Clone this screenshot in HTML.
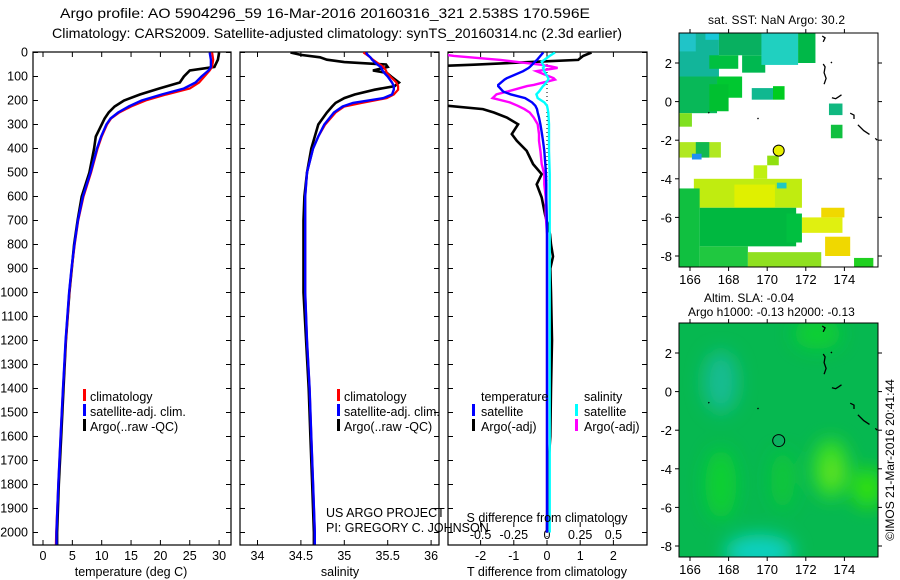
<!DOCTYPE html>
<html><head><meta charset="utf-8"><style>
body{margin:0;background:#fff;}
svg{display:block;font-family:"Liberation Sans",sans-serif;}
text{fill:#000;}
</style></head><body>
<svg id="c" width="900" height="580" viewBox="0 0 900 580">
<defs>
<clipPath id="cp1"><rect x="33" y="52" width="198" height="493"/></clipPath>
<clipPath id="cp2"><rect x="240" y="52" width="199" height="493"/></clipPath>
<clipPath id="cp3"><rect x="448" y="52" width="199" height="493"/></clipPath>
<clipPath id="cm1"><rect x="679" y="33" width="199" height="234"/></clipPath>
<clipPath id="cm2"><rect x="679" y="323" width="199" height="234"/></clipPath>
<filter id="bl" x="-50%" y="-50%" width="200%" height="200%"><feGaussianBlur stdDeviation="9"/></filter>
</defs>
<text x="60" y="18" font-size="14" textLength="530" lengthAdjust="spacingAndGlyphs">Argo profile: AO 5904296_59 16-Mar-2016 20160316_321 2.538S 170.596E</text>
<text x="52" y="38" font-size="14" textLength="570" lengthAdjust="spacingAndGlyphs">Climatology: CARS2009. Satellite-adjusted climatology: synTS_20160314.nc (2.3d earlier)</text>
<text x="708" y="24" font-size="12" textLength="137">sat. SST: NaN Argo: 30.2</text>
<text x="704" y="302" font-size="12">Altim. SLA: -0.04</text>
<text x="688" y="316" font-size="12">Argo h1000: -0.13 h2000: -0.13</text>
<text transform="translate(894,460) rotate(-90)" font-size="12" text-anchor="middle">©IMOS 21-Mar-2016 20:41:44</text>
<g id="g"></g>
</svg>
<script>
// ---- Temperature panel data ----
const tDepth=[0,30,60,75,100,125,150,175,200,225,250,275,300,350,400,500,600,700,800,900,1000,1200,1400,1600,1800,2000,2050];
const tArgo=[30.0,29.8,29.2,25.0,24.0,23.3,19.8,16.5,13.8,12.2,11.2,10.5,10.0,9.0,8.7,7.9,6.6,5.9,5.3,4.9,4.5,3.9,3.5,3.1,2.7,2.4,2.4];
const tClim=[28.8,29.0,28.8,28.4,27.5,26.6,25.0,21.0,17.5,15.0,13.0,11.6,10.9,10.0,9.3,8.2,6.9,6.0,5.4,4.9,4.5,3.9,3.4,3.0,2.6,2.25,2.2];
const tSat=[28.4,28.6,28.6,28.2,27.0,26.0,24.0,20.2,16.8,14.6,12.8,11.5,10.8,9.9,9.2,8.1,6.8,5.95,5.35,4.85,4.45,3.85,3.4,3.0,2.6,2.3,2.3];
// ---- Salinity panel data ----
const sDepth=[0,10,20,30,40,50,60,75,85,100,125,140,155,175,190,210,225,250,300,350,400,500,600,700,800,1000,1200,1400,1600,1800,2000,2050];
const sArgo=[34.38,34.5,34.72,34.8,35.0,35.48,35.5,35.33,35.49,35.54,35.63,35.58,35.35,35.12,35.0,34.9,34.86,34.8,34.7,34.66,34.62,34.57,34.54,34.53,34.53,34.53,34.56,34.59,34.61,34.63,34.65,34.65];
const sClim=[35.22,35.26,35.3,35.33,35.37,35.41,35.45,35.48,35.49,35.53,35.6,35.62,35.62,35.57,35.49,35.2,35.0,34.9,34.78,34.7,34.64,34.57,34.55,34.55,34.55,34.55,34.57,34.6,34.62,34.64,34.66,34.66];
const sSat=[35.25,35.27,35.3,35.32,35.35,35.38,35.42,35.44,35.46,35.5,35.55,35.57,35.57,35.55,35.45,35.1,34.98,34.88,34.77,34.7,34.64,34.57,34.55,34.55,34.55,34.55,34.57,34.6,34.62,34.64,34.66,34.66];
// ---- Difference panel data ----
const dDepth=[0,14,31,38,51,58,64,78,107,113,135,140,163,174,190,208,222,236,250,271,299,340,368,410,465,507,549,604,674,757,800,850,900,1000,1200,1400,1600,1700,1800,2000];
const dTSat=[-0.11,-0.2,-0.3,-0.36,-0.45,-0.5,-0.55,-0.72,-1.21,-1.28,-1.47,-1.47,-1.32,-1.1,-0.66,-0.45,-0.35,-0.3,-0.28,-0.24,-0.2,-0.15,-0.12,-0.08,-0.05,-0.03,-0.02,-0.02,-0.01,0,0,0,0,0,0,0,0,0,0,0];
const dTArgo=[1.34,1.09,0.94,-0.2,-2.2,-3.5,-3.5,-3.5,-3.5,-3.5,-3.5,-3.5,-3.5,-3.5,-3.5,-3.5,-3.0,-1.93,-1.6,-1.21,-0.87,-1.06,-0.91,-0.61,-0.42,-0.16,-0.31,-0.16,-0.06,0.09,0.12,0.18,0.1,0.12,0.15,0.12,0.1,0.05,0.02,0];
const dSArgo=[-0.9,-0.7,-0.35,-0.25,-0.05,0.03,0.08,-0.08,0.05,0.06,-0.1,-0.15,-0.3,-0.38,-0.41,-0.28,-0.22,-0.17,-0.13,-0.1,-0.07,-0.06,-0.06,-0.05,-0.04,-0.02,-0.02,-0.01,-0.01,0,0,0,0,0,0,0,0,0,0,0];
const dSSat=[0.06,0.02,-0.02,-0.04,-0.03,-0.02,-0.03,-0.02,0.01,0.01,-0.02,-0.03,-0.06,-0.08,-0.07,-0.02,0,0.005,0.01,0.012,0.015,0.015,0.015,0.015,0.018,0.02,0.02,0.02,0.02,0.02,0.02,0.02,0.02,0.02,0.02,0.02,0.02,0.02,0.02,0.02];
// ---- Tick labels ----
const depthTicks=[0,100,200,300,400,500,600,700,800,900,1000,1100,1200,1300,1400,1500,1600,1700,1800,1900,2000];
const tTicks=[0,5,10,15,20,25,30];
const sTicks=[34,34.5,35,35.5,36];
const sTickLabels=["34","34.5","35","35.5","36"];
const dtTicks=[-2,-1,0,1,2];
const dsTicks=[-0.5,-0.25,0,0.25,0.5];
const dsTickLabels=["-0.5","-0.25","0","0.25","0.5"];
const lonTicks=[166,168,170,172,174];
const latTicks=[2,0,-2,-4,-6,-8];
// ---- Map data: SST patches [lon0,lat0,lon1,lat1,color] ----
const sstPatches=[
[165.43,3.55,167.5,1.3,'#12b59a'],[165.43,3.55,166.3,2.6,'#20c4c8'],[166.8,3.55,167.5,3.2,'#18c8d8'],
[165.43,1.3,167.4,-0.6,'#08b858'],[165.43,-0.6,166.1,-1.3,'#80e020'],
[167.5,3.55,169.8,2.4,'#08b060'],[167.0,2.4,168.5,1.7,'#00c040'],[168.7,2.4,169.9,1.5,'#00b850'],
[167.4,1.3,168.7,0.2,'#00c830'],[167.0,0.9,168.0,-0.5,'#00c030'],
[169.7,3.55,171.6,1.9,'#20d0c0'],[171.6,3.55,172.5,2.0,'#00b848'],
[169.2,0.7,170.3,0.1,'#10b890'],[170.3,0.8,170.9,0.1,'#00cc20'],
[173.2,-0.1,173.9,-0.7,'#10b880'],[173.3,-1.2,173.9,-1.9,'#10c040'],
[165.43,-2.1,167.6,-2.9,'#b0e820'],[166.3,-2.1,167.0,-2.9,'#10b850'],[166.1,-2.7,166.6,-3.0,'#2090f0'],
[170.0,-2.8,170.6,-3.3,'#90e010'],[169.3,-3.3,170.0,-4.0,'#c0f010'],
[166.2,-4.0,171.8,-5.5,'#c0ec10'],[168.3,-4.3,170.4,-5.5,'#e0f000'],[170.5,-4.2,171.0,-4.5,'#20c8c0'],
[165.43,-4.5,166.5,-8.55,'#10c040'],[166.5,-5.5,171.5,-7.5,'#00b840'],[171.0,-5.8,171.8,-7.3,'#00c040'],
[171.8,-6.0,173.9,-6.8,'#e0f010'],[172.8,-5.5,174.0,-6.0,'#f0d800'],[173.0,-7.0,174.3,-8.0,'#f0d800'],
[166.5,-7.5,169.0,-8.55,'#20c840'],[169.0,-7.8,172.8,-8.55,'#90e020'],[174.5,-8.1,175.5,-8.55,'#20d020']];
// SLA blobs [lon,lat,rx(deg),ry(deg),color]
const slaBlobs=[[167.6,0.5,0.9,1.6,'#12bc92'],[169.6,-8.3,1.8,0.9,'#10d0c0'],[173.3,-4.0,0.9,1.5,'#40e020'],
[175.2,-5.0,0.8,1.0,'#30e010'],[167.6,-4.8,0.8,1.8,'#10d030'],[170.8,-4.6,0.6,1.5,'#10c838'],[172.6,3.0,1.2,0.8,'#10d030'],[173.4,-4.2,0.2,0.4,'#90e020']];
const coastLines=[[[172.85,3.4],[173.0,3.3],[172.9,3.1]],[[172.9,1.95],[173.0,1.8],[172.95,1.5],[173.05,1.2],[172.95,0.9]],[[173.3,2.05],[173.35,2.0]],
[[173.35,0.2],[173.55,0.15],[173.7,0.25],[173.85,0.35]],[[174.3,-0.6],[174.5,-0.7],[174.5,-0.9]],[[174.7,-1.2],[175.0,-1.5],[175.3,-1.7]],[[175.6,-1.9],[175.7,-2.0]],[[167.0,-0.55],[166.95,-0.6]],[[169.55,-0.85],[169.5,-0.9]]];
const argoLon=170.596, argoLat=-2.538;

const NS='http://www.w3.org/2000/svg';
const G=document.getElementById('g');
function mk(tag,attrs,parent){const e=document.createElementNS(NS,tag);for(const k in attrs)e.setAttribute(k,attrs[k]);(parent||G).appendChild(e);return e;}
const yD=d=>52.5+d*0.24;
const xT=v=>43+v*5.87;
const xS=v=>257.5+(v-34)*86.8;
const xDT=v=>547+v*33.2;
const xDS=v=>547+v*132.8;
const mLon=l=>690+(l-166)*19.3;
const mLat=(l,off)=>63+off+(2-l)*19.3;

function profile(xs,ds,fx,color,w,clip,name){
  const pts=xs.map((v,i)=>fx(v).toFixed(1)+','+yD(ds[i]).toFixed(1)).join(' ');
  const p=mk('polyline',{points:pts,fill:'none',stroke:color,'stroke-width':w,'clip-path':'url(#'+clip+')'});
  
  
}
function frame(x0,x1,name){
  const r=mk('rect',{x:x0,y:52,width:x1-x0,height:493,fill:'none',stroke:'#000','stroke-width':1.2});
  
  
  depthTicks.forEach(d=>{mk('line',{x1:x0,x2:x0+5,y1:yD(d),y2:yD(d),stroke:'#000'});mk('line',{x1:x1-5,x2:x1,y1:yD(d),y2:yD(d),stroke:'#000'});});
}
function xticks(vals,fx,y0,y1,labels,ly){
  vals.forEach((v,i)=>{const x=fx(v);
    if(y0!==null){mk('line',{x1:x,x2:x,y1:52,y2:57,stroke:'#000'});}
    mk('line',{x1:x,x2:x,y1:y1-5,y2:y1,stroke:'#000'});
    if(labels){const t=mk('text',{x:x,y:ly,'font-size':12.5,'text-anchor':'middle'});t.textContent=labels[i];
      
      }
  });
}
function txt(x,y,s,name,size,anchor){const t=mk('text',{x:x,y:y,'font-size':size||12.5,'text-anchor':anchor||'start'});t.textContent=s;
  
  return t;}
function legendBar(x,y,color,name){const r=mk('rect',{x:x,y:y-10,width:3,height:12,fill:color});
  
  }

depthTicks.forEach(d=>{txt(28,yD(d)+4,String(d),'y-tick-label',12.5,'end');});

// Panel 1
frame(33,231,'temperature-panel-frame');
xticks(tTicks,xT,0,545,tTicks.map(String),560);
profile(tArgo,tDepth,xT,'#000',2.6,'cp1','argo-temperature-line');
profile(tClim,tDepth,xT,'#f00',2.2,'cp1','climatology-temperature-line');
profile(tSat,tDepth,xT,'#00f',2.4,'cp1','satellite-temperature-line');
txt(131,576,'temperature (deg C)','temperature-axis-title',12.5,'middle');
legendBar(83,399,'#f00','legend-climatology-swatch');txt(90,401,'climatology','legend-climatology');
legendBar(83,414,'#00f','legend-satellite-swatch');txt(90,416,'satellite-adj. clim.','legend-satellite');
legendBar(83,429,'#000','legend-argo-swatch');txt(90,431,'Argo(..raw -QC)','legend-argo');

// Panel 2
frame(240,439,'salinity-panel-frame');
xticks(sTicks,xS,0,545,sTickLabels,560);
profile(sArgo,sDepth,xS,'#000',2.6,'cp2','argo-salinity-line');
profile(sClim,sDepth,xS,'#f00',2.2,'cp2','climatology-salinity-line');
profile(sSat,sDepth,xS,'#00f',2.4,'cp2','satellite-salinity-line');
txt(340,576,'salinity','salinity-axis-title',12.5,'middle');
legendBar(337,399,'#f00','legend2-climatology-swatch');txt(344,401,'climatology','legend2-climatology');
legendBar(337,414,'#00f','legend2-satellite-swatch');txt(344,416,'satellite-adj. clim.','legend2-satellite');
legendBar(337,429,'#000','legend2-argo-swatch');txt(344,431,'Argo(..raw -QC)','legend2-argo');
txt(326,517,'US ARGO PROJECT','project-label');
txt(326,532,'PI: GREGORY C. JOHNSON','pi-label');

// Panel 3
frame(448,647,'difference-panel-frame');
xticks(dtTicks,xDT,0,545,dtTicks.map(String),560);
xticks(dsTicks,xDS,null,527,dsTickLabels,539);
mk('line',{x1:547,x2:547,y1:60,y2:545,stroke:'#000','stroke-dasharray':'1,3','stroke-width':1});
profile(dTArgo,dDepth,xDT,'#000',2.6,'cp3','argo-temperature-diff-line');
profile(dSArgo,dDepth,xDS,'#f0f',2.4,'cp3','argo-salinity-diff-line');
profile(dTSat,dDepth,xDT,'#00f',2.4,'cp3','satellite-temperature-diff-line');
profile(dSSat,dDepth,xDS,'#0ff',2.4,'cp3','satellite-salinity-diff-line');
txt(547,522,'S difference from climatology','s-diff-axis-title',12.5,'middle');
txt(547,576,'T difference from climatology','t-diff-axis-title',12.5,'middle');
txt(481,401,'temperature','legend3-temperature-header');
txt(584,401,'salinity','legend3-salinity-header');
legendBar(472,414,'#00f','legend3-t-satellite-swatch');txt(481,416,'satellite','legend3-t-satellite');
legendBar(472,429,'#000','legend3-t-argo-swatch');txt(481,431,'Argo(-adj)','legend3-t-argo');
legendBar(575,414,'#0ff','legend3-s-satellite-swatch');txt(584,416,'satellite','legend3-s-satellite');
legendBar(575,429,'#f0f','legend3-s-argo-swatch');txt(584,431,'Argo(-adj)','legend3-s-argo');

// Maps
function mapAxes(off,clip,name){
  const r=mk('rect',{x:679,y:33+off,width:199,height:234,fill:'none',stroke:'#000','stroke-width':1});
  
  
  lonTicks.forEach(l=>{const x=mLon(l);mk('line',{x1:x,x2:x,y1:33+off-4,y2:33+off,stroke:'#000'});mk('line',{x1:x,x2:x,y1:267+off,y2:271+off,stroke:'#000'});
    txt(x,284+off,String(l),'map-lon-label',13,'middle');});
  latTicks.forEach(l=>{const y=mLat(l,off);mk('line',{x1:675,x2:679,y1:y,y2:y,stroke:'#000'});mk('line',{x1:878,x2:882,y1:y,y2:y,stroke:'#000'});
    txt(672,y+5,String(l),'map-lat-label',13,'end');});
  coastLines.forEach(c=>{const p=mk('polyline',{points:c.map(q=>mLon(q[0]).toFixed(1)+','+mLat(q[1],off).toFixed(1)).join(' '),fill:'none',stroke:'#000','stroke-width':1.3,'clip-path':'url(#'+clip+')'});
    
    });
}
sstPatches.forEach(p=>{const r=mk('rect',{x:mLon(p[0]),y:mLat(p[1],0),width:mLon(p[2])-mLon(p[0]),height:mLat(p[3],0)-mLat(p[1],0),fill:p[4],'clip-path':'url(#cm1)'});
  
  });
mapAxes(0,'cm1','sst-map-frame');
const c1=mk('circle',{cx:mLon(argoLon),cy:mLat(argoLat,0),r:5.5,fill:'#e8f000',stroke:'#000','stroke-width':1});


const bg=mk('rect',{x:679,y:323,width:199,height:234,fill:'#06b850'});


const bgG=mk('g',{'clip-path':'url(#cm2)'});
const bgG2=mk('g',{filter:'url(#bl)'},bgG);
slaBlobs.forEach(b=>{const e=mk('ellipse',{cx:mLon(b[0]),cy:mLat(b[1],290),rx:b[2]*19.3,ry:b[3]*19.3,fill:b[4]},bgG2);
  
  });
mapAxes(290,'cm2','sla-map-frame');
const c2=mk('circle',{cx:mLon(argoLon),cy:mLat(argoLat,290),r:6,fill:'#0cb060',stroke:'#000','stroke-width':1});


</script>
</body></html>
